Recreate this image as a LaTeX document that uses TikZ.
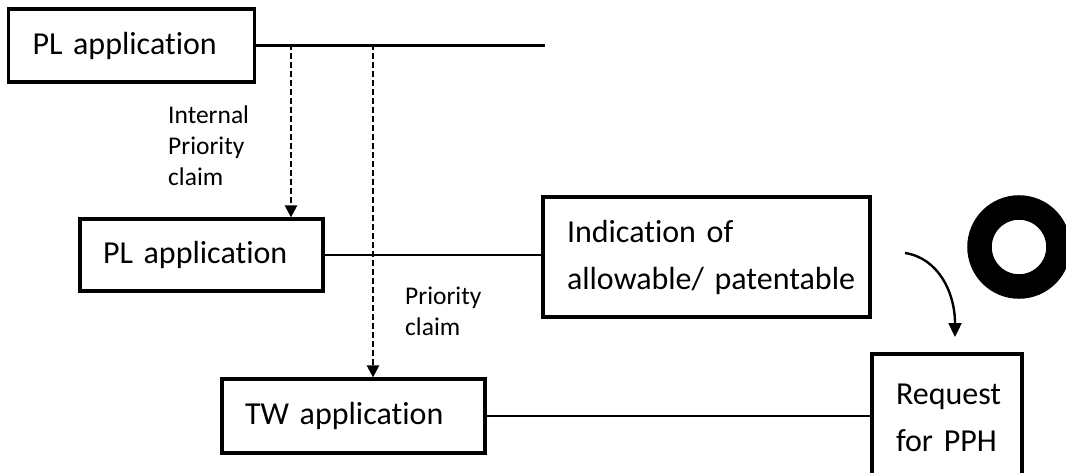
\documentclass[tikz,border=0pt]{standalone}
\usepackage{fontspec}
\setmainfont{Carlito}[RawFeature=-liga,RawFeature=-calt,WordSpace=0.65]
\usetikzlibrary{arrows.meta}
\begin{document}
\begin{tikzpicture}[x=1pt,y=-1pt,
  box/.style={draw,line width=3.2pt,inner ysep=0pt,font=\fontsize{32}{47}\selectfont,align=left},
  conn/.style={line width=2.8pt},
  dashconn/.style={line width=2.4pt,dash pattern=on 6pt off 3pt,-{Triangle[length=12pt,width=12pt]}},
  lbl/.style={font=\fontsize{25.5}{31}\selectfont,align=left,anchor=north west,inner sep=0pt}
]
\useasboundingbox (0,0) rectangle (1066,473);
\fill[white] (0,0) rectangle (1066,473);
\clip (0,0) rectangle (1066,473);

\node[box,minimum width=246pt,minimum height=73pt,inner xsep=24pt,text width=198pt] (b1) at (131.5,45.5) {\mbox{PL application}};
\node[box,minimum width=243pt,minimum height=72pt,inner xsep=23pt,text width=197pt] (b2) at (201.5,255) {\mbox{PL application}};
\node[box,minimum width=263pt,minimum height=74pt,inner xsep=23pt,text width=217pt] (b3) at (353.5,416) {\mbox{TW application}};
\node[box,minimum width=327pt,minimum height=120pt,inner xsep=24pt,text width=279pt] (ind) at (706.5,257) {\mbox{Indication of}\\\mbox{allowable/ patentable}};
\node[box,minimum width=150pt,minimum height=128pt,inner xsep=24pt,text width=102pt] (req) at (947,418) {\mbox{Request}\\\mbox{for PPH}};

\coordinate (ringc) at (1019,247);
\draw[line width=24.5pt] (ringc) circle[radius=39.5pt];

\node[lbl] (l1) at (168,106) {Internal\\Priority\\claim};
\node[lbl] (l2) at (405,287) {Priority\\claim};

\coordinate (topend) at (545,44);
\coordinate (d1) at (291,44);
\coordinate (d2) at (373,44);
\draw[conn] (b1.east) -- (b1.east -| topend);
\draw[dashconn] (d1) -- (d1 |- b2.north);
\draw[dashconn] (d2) -- (d2 |- b3.north);
\draw[conn] (b2.east) -- (b2.east -| ind.west);
\draw[conn] (b3.east) -- (b3.east -| req.west);

\coordinate (cs) at (905,253);
\coordinate (ce) at (955,337);
\draw[line width=2.4pt,-{Triangle[length=14pt,width=13pt]}] (cs) .. controls (938,258) and (955,292) .. (ce);
\end{tikzpicture}
\end{document}
